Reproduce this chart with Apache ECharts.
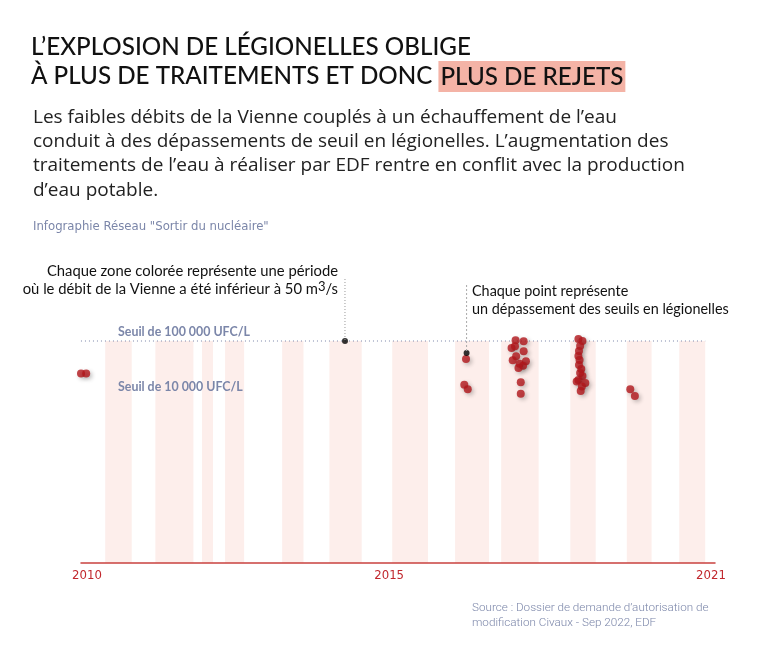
<!DOCTYPE html>
<html>
<head>
<meta charset="utf-8">
<script src="https://cdn.jsdelivr.net/npm/echarts@6/dist/echarts.min.js"></script>
<style>
  html, body { margin: 0; padding: 0; background: #fff; }
  #chart { width: 757px; height: 645px; }
</style>
</head>
<body>
<div id="chart"></div>
<script>
// périodes où le débit de la Vienne < 50 m3/s (années décimales)
const zoneStarts = [2010.42, 2011.29, 2012.10, 2012.50, 2013.49, 2014.31, 2015.40, 2016.49, 2017.29, 2018.49, 2019.47, 2020.38];
const zoneEnds   = [2010.88, 2011.95, 2012.29, 2012.83, 2013.86, 2014.87, 2016.02, 2017.08, 2017.94, 2018.93, 2019.90, 2020.83];

// dépassements des seuils en légionelles (date, UFC/L)
const exceedDates = [
  2010.00, 2010.09,
  2016.68, 2016.65, 2016.71,
  2017.54, 2017.68, 2017.47, 2017.53, 2017.68, 2017.55, 2017.49, 2017.72, 2017.61, 2017.67, 2017.59, 2017.63, 2017.63,
  2018.63, 2018.70, 2018.66, 2018.64, 2018.63, 2018.65, 2018.64, 2018.68, 2018.66, 2018.70, 2018.63, 2018.60, 2018.75, 2018.69, 2018.67,
  2019.53, 2019.61
];
const exceedValues = [
  26000, 26000,
  47400, 16300, 13500,
  103000, 98800, 74800, 80200, 65200, 53000, 44900, 43100, 39000, 35900, 32600, 18000, 11200,
  108700, 100000, 81300, 66100, 53700, 45500, 37000, 31300, 26500, 23400, 19800, 18600, 17500, 15100, 12600,
  13500, 10200
];

// points d'annotation (noirs)
const markerDates = [2014.58, 2016.69];
const markerValues = [100000, 61000];

// seuils
const thresholdHigh = 100000;
const thresholdLow = 10000;
const thresholdSpan = [2009.93, 2020.83];

const tickValues = [2010, 2015, 2021];
const tickLabels = ['2010', '2015', '2021'];

const narrow = 'DejaVu Sans Condensed';

const chart = echarts.init(document.getElementById('chart'));

const zones = zoneStarts.map((s, i) => [{ xAxis: s }, { xAxis: zoneEnds[i] }]);

const tickRich = (pad) => ({
  fontFamily: narrow,
  fontSize: 13,
  color: '#c1272d',
  padding: pad,
});

const option = {
  animation: false,
  title: [
    {
      text: 'L’EXPLOSION DE LÉGIONELLES OBLIGE\nÀ PLUS DE TRAITEMENTS ET DONC {hl|PLUS DE REJETS}',
      left: 31,
      top: 33,
      padding: 0,
      textStyle: {
        fontFamily: 'Lato',
        fontSize: 24.2,
        fontWeight: 500,
        color: '#111',
        lineHeight: 29,
        rich: {
          hl: {
            fontFamily: 'Lato',
            fontSize: 24.2,
            fontWeight: 500,
            color: '#111',
            backgroundColor: '#f4b3a6',
            padding: [4, 2, 3, 2],
          },
        },
      },
    },
    {
      text: 'Les faibles débits de la Vienne couplés à un échauffement de l’eau\nconduit à des dépassements de seuil en légionelles. L’augmentation des\ntraitements de l’eau à réaliser par EDF rentre en conflit avec la production\nd’eau potable.',
      left: 33,
      top: 105,
      padding: 0,
      textStyle: {
        fontFamily: 'Open Sans',
        fontSize: 19,
        fontWeight: 'normal',
        color: '#222',
        lineHeight: 24.4,
      },
    },
    {
      text: 'Infographie Réseau "Sortir du nucléaire"',
      left: 33,
      top: 220,
      padding: 0,
      textStyle: {
        fontFamily: narrow,
        fontSize: 13,
        fontWeight: 'normal',
        color: '#7b86a9',
      },
    },
    {
      text: 'Source : Dossier de demande d’autorisation de\nmodification Civaux - Sep 2022, EDF',
      left: 472,
      top: 601,
      padding: 0,
      textStyle: {
        fontFamily: 'Roboto',
        fontSize: 11.7,
        fontWeight: 300,
        color: '#7b86a9',
        lineHeight: 15,
      },
    },
  ],
  grid: { left: 81, right: 42, top: 341, bottom: 82 },
  xAxis: {
    type: 'value',
    min: 2010,
    max: 2021,
    z: 5,
    splitLine: { show: false },
    axisTick: { show: false },
    axisLine: { lineStyle: { color: '#c9413f', width: 1.5 } },
    axisLabel: {
      customValues: tickValues,
      margin: 6,
      fontFamily: narrow,
      fontSize: 13,
      color: '#c1272d',
      formatter: (v) => {
        const i = tickValues.indexOf(v);
        const key = ['a', 'b', 'c'][i];
        return '{' + key + '|' + tickLabels[i] + '}';
      },
      rich: {
        a: tickRich([0, 0, 0, 12]),
        b: tickRich([0, 0, 0, 40]),
        c: tickRich([0, 8, 0, 0]),
      },
    },
  },
  yAxis: {
    type: 'log',
    logBase: 10,
    min: 10,
    max: 100000,
    show: false,
    splitLine: { show: false },
  },
  series: [
    {
      // seuil de 100 000 UFC/L + zones de faible débit
      type: 'line',
      data: [[thresholdSpan[0], thresholdHigh], [thresholdSpan[1], thresholdHigh]],
      symbol: 'none',
      clip: false,
      silent: true,
      lineStyle: { color: '#7b86a9', width: 1, type: [1, 3] },
      markArea: {
        silent: true,
        itemStyle: { color: '#fdeeeb' },
        data: zones,
      },
      z: 1,
    },
    {
      type: 'scatter',
      data: exceedDates.map((d, i) => [d, exceedValues[i]]),
      symbolSize: 8,
      clip: false,
      itemStyle: {
        color: '#b2161b',
        shadowBlur: 4,
        shadowOffsetX: 2,
        shadowOffsetY: 2,
        shadowColor: 'rgba(0,0,0,0.3)',
      },
      z: 3,
    },
    {
      type: 'scatter',
      data: markerDates.map((d, i) => [d, markerValues[i]]),
      symbolSize: 6,
      clip: false,
      itemStyle: { color: '#000' },
      z: 4,
    },
  ],
};

chart.setOption(option);

// lignes de rappel et textes d'annotation
const p1 = chart.convertToPixel({ gridIndex: 0 }, [markerDates[0], markerValues[0]]);
const p2 = chart.convertToPixel({ gridIndex: 0 }, [markerDates[1], markerValues[1]]);
const lowY = chart.convertToPixel({ gridIndex: 0 }, [2010, thresholdLow])[1];
const highY = chart.convertToPixel({ gridIndex: 0 }, [2010, thresholdHigh])[1];

chart.setOption({
  graphic: [
    {
      type: 'line',
      z: 10,
      shape: { x1: p1[0], y1: 279, x2: p1[0], y2: p1[1] },
      style: { stroke: '#999', lineWidth: 1, lineDash: [1, 2] },
      silent: true,
    },
    {
      type: 'line',
      z: 10,
      shape: { x1: p2[0], y1: 285, x2: p2[0], y2: p2[1] },
      style: { stroke: '#aaa', lineWidth: 1, lineDash: [2, 2] },
      silent: true,
    },
    {
      type: 'text',
      x: 338,
      y: 262,
      z: 10,
      silent: true,
      style: {
        text: 'Chaque zone colorée représente une période\noù le débit de la Vienne a été inférieur à 50 m{sup|3}/s',
        align: 'right',
        verticalAlign: 'top',
        font: '14.8px Lato',
        fill: '#111',
        lineHeight: 18,
        rich: {
          sup: { fontSize: 13, fontFamily: 'Lato', fill: '#111', verticalAlign: 'top', padding: [0, 0, 6, 0] },
        },
      },
    },
    {
      type: 'text',
      x: 472,
      y: 282,
      z: 10,
      silent: true,
      style: {
        text: 'Chaque point représente\nun dépassement des seuils en légionelles',
        align: 'left',
        verticalAlign: 'top',
        font: '14.4px Lato',
        fill: '#111',
        lineHeight: 18,
      },
    },
    {
      type: 'text',
      x: 118,
      y: highY - 9,
      z: 10,
      silent: true,
      style: {
        text: 'Seuil de 100 000 UFC/L',
        verticalAlign: 'middle',
        font: 'bold 12.4px Lato',
        fill: '#7b86a9',
      },
    },
    {
      type: 'text',
      x: 118,
      y: lowY - 10,
      z: 10,
      silent: true,
      style: {
        text: 'Seuil de 10 000 UFC/L',
        verticalAlign: 'middle',
        font: 'bold 12.4px Lato',
        fill: '#7b86a9',
      },
    },
  ],
});
</script>
</body>
</html>
